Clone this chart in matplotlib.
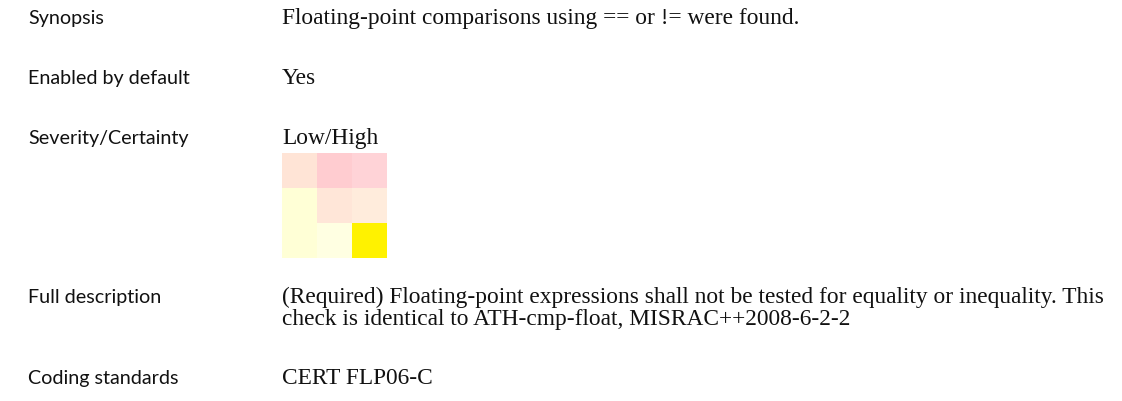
import matplotlib.pyplot as plt
from matplotlib.colors import to_rgb
import numpy as np

W, H = 1122, 401

labels = ["Synopsis", "Enabled by default", "Severity/Certainty",
          "Full description", "", "Coding standards"]
values = ["Floating-point comparisons using == or != were found.",
          "Yes",
          "Low/High",
          "(Required) Floating-point expressions shall not be tested for equality or inequality. This",
          "check is identical to ATH-cmp-float, MISRAC++2008-6-2-2",
          "CERT FLP06-C"]
# baseline y in pixels from top
rows_y = [24, 84, 144, 303, 325, 384]

# severity/certainty matrix colours
grid_colors = [["#FFE4D6", "#FFCCD0", "#FFD3D7"],
               ["#FFFFD6", "#FFE6D8", "#FFECDC"],
               ["#FFFFD6", "#FFFFE2", "#FFF200"]]

fig = plt.figure(figsize=(W / 100, H / 100), dpi=100)


def px(x, y):
    return x / W, 1 - y / H


for lab, val, y in zip(labels, values, rows_y):
    if lab:
        fig.text(*px(28, y), lab, family="Lato", fontsize=14.2,
                 va="baseline", ha="left", color="#111111")
    fig.text(*px(282, y), val, family="Liberation Serif", fontsize=16.8,
             va="baseline", ha="left", color="#111111")

# the 3x3 grid
gx, gy, gs = 282, 153, 105
ax = fig.add_axes([gx / W, 1 - (gy + gs) / H, gs / W, gs / H])
img = np.array([[to_rgb(c) for c in row] for row in grid_colors])
ax.imshow(img, aspect="auto", interpolation="nearest")
ax.axis("off")

fig.savefig("out.png", dpi=100)
